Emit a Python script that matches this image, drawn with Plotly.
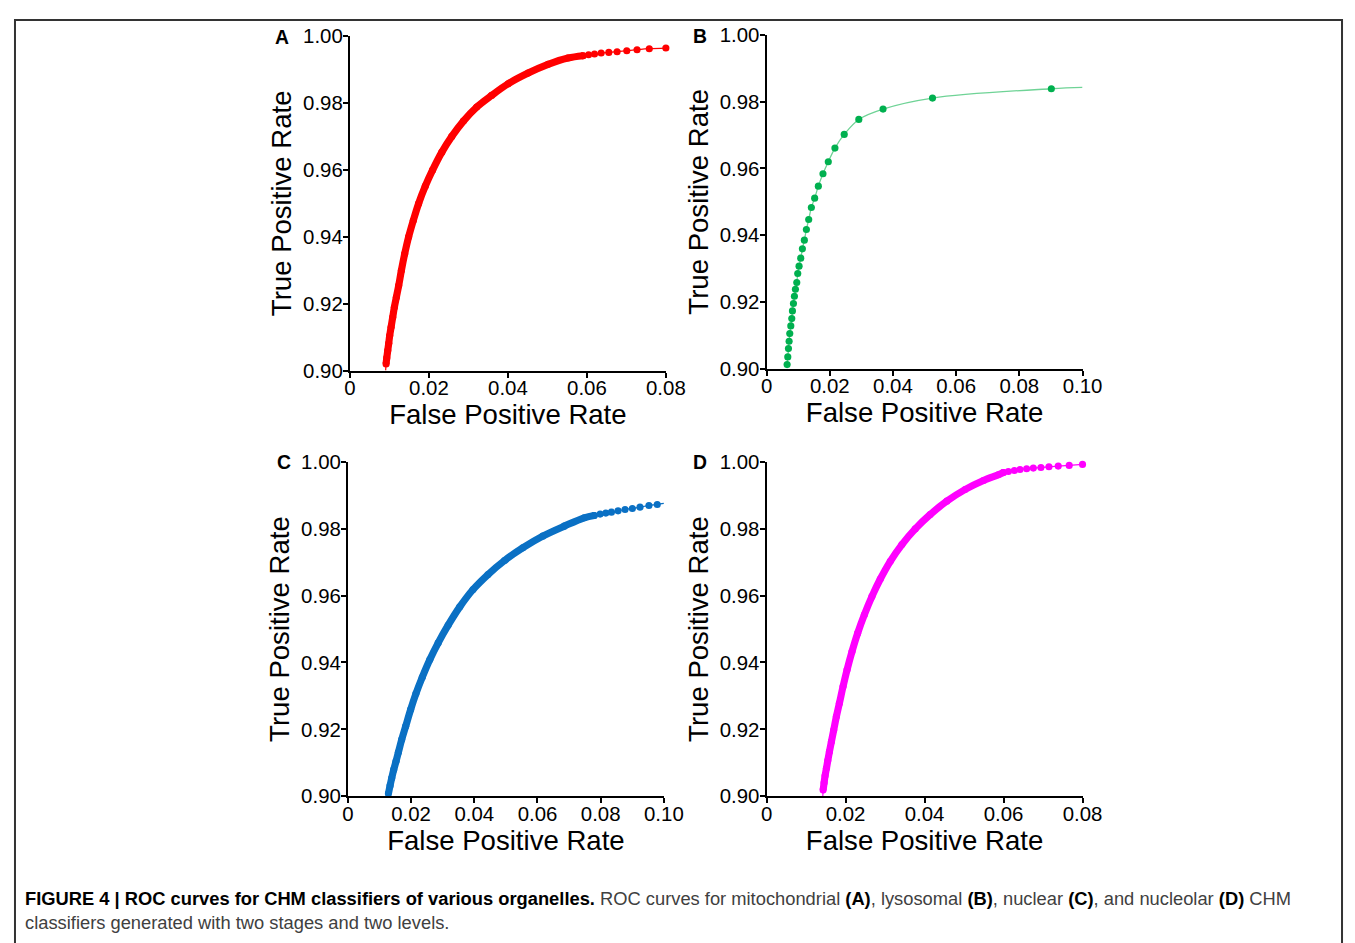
import plotly.graph_objects as go

# ---------------- data ----------------
# Panel A - mitochondrial (red)
A_band_fpr = [0.00916, 0.00933, 0.00958, 0.00983, 0.01008, 0.01042, 0.01084, 0.01126, 0.01176,
              0.01235, 0.01303, 0.01387, 0.01487, 0.01605, 0.01740, 0.01908, 0.02092, 0.02328,
              0.02580, 0.02874, 0.03210, 0.03588, 0.04008, 0.04513, 0.05017, 0.05521, 0.05900]
A_band_tpr = [0.90199, 0.90379, 0.90598, 0.90818, 0.91047, 0.91296, 0.91595, 0.91894, 0.92193,
              0.92542, 0.92991, 0.93490, 0.93998, 0.94487, 0.94995, 0.95513, 0.95992, 0.96530,
              0.97000, 0.97458, 0.97876, 0.98225, 0.98574, 0.98893, 0.99153, 0.99342, 0.99412]
A_dots_fpr = [0.05900, 0.06042, 0.06193, 0.06361, 0.06555, 0.06765, 0.07010, 0.07270, 0.07580, 0.08000]
A_dots_tpr = [0.99412, 0.99442, 0.99462, 0.99492, 0.99511, 0.99531, 0.99561, 0.99591, 0.99621, 0.99641]
A_head = (0.00905, 0.9000)

# Panel B - lysosomal (green)
B_dots_fpr = [0.00651, 0.00672, 0.00693, 0.00714, 0.00735, 0.00767, 0.00798, 0.00819, 0.00851,
              0.00882, 0.00914, 0.00956, 0.00987, 0.01029, 0.01082, 0.01134, 0.01197, 0.01261,
              0.01334, 0.01418, 0.01523, 0.01639, 0.01786, 0.01954, 0.02164, 0.02458, 0.02920,
              0.03687, 0.05252, 0.09013]
B_dots_tpr = [0.9012, 0.9035, 0.9060, 0.9082, 0.9105, 0.9128, 0.9150, 0.9173, 0.9195,
              0.9217, 0.9238, 0.9258, 0.9285, 0.9307, 0.9331, 0.9359, 0.9385, 0.9417,
              0.9447, 0.9483, 0.9511, 0.9547, 0.9584, 0.9620, 0.9661, 0.9702, 0.9747,
              0.9778, 0.9811, 0.9839]
B_tail = (0.1000, 0.9843)

# Panel C - nuclear (blue)
C_band_fpr = [0.01282, 0.01334, 0.01387, 0.01450, 0.01523, 0.01597, 0.01702, 0.01828, 0.01985,
              0.02153, 0.02353, 0.02594, 0.02857, 0.03172, 0.03540, 0.03960, 0.04433, 0.04958,
              0.05536, 0.06166, 0.06849, 0.07479, 0.07794]
C_band_tpr = [0.90080, 0.90320, 0.90549, 0.90798, 0.91047, 0.91316, 0.91695, 0.92094, 0.92592,
              0.93071, 0.93559, 0.94088, 0.94586, 0.95115, 0.95663, 0.96182, 0.96630, 0.97049,
              0.97428, 0.97777, 0.98076, 0.98325, 0.98395]
C_dots_fpr = [0.07794, 0.07983, 0.08162, 0.08340, 0.08550, 0.08771, 0.09002, 0.09244, 0.09527, 0.09790]
C_dots_tpr = [0.98395, 0.98435, 0.98465, 0.98494, 0.98534, 0.98574, 0.98604, 0.98644, 0.98694, 0.98724]
C_tail = (0.1000, 0.98754)

# Panel D - nucleolar (magenta)
D_band_fpr = [0.01432, 0.01457, 0.01482, 0.01516, 0.01550, 0.01592, 0.01642, 0.01701, 0.01768,
              0.01844, 0.01937, 0.02038, 0.02164, 0.02307, 0.02476, 0.02669, 0.02880, 0.03133,
              0.03427, 0.03764, 0.04143, 0.04564, 0.05027, 0.05491, 0.05869, 0.05996]
D_band_tpr = [0.90186, 0.90406, 0.90616, 0.90836, 0.91066, 0.91335, 0.91634, 0.91983, 0.92383,
              0.92782, 0.93281, 0.93780, 0.94329, 0.94878, 0.95427, 0.95976, 0.96495, 0.97024,
              0.97524, 0.97993, 0.98422, 0.98822, 0.99171, 0.99441, 0.99611, 0.99680]
D_dots_fpr = [0.05996, 0.06122, 0.06274, 0.06417, 0.06585, 0.06754, 0.06947, 0.07150, 0.07385, 0.07663, 0.08000]
D_dots_tpr = [0.99680, 0.99710, 0.99740, 0.99770, 0.99790, 0.99810, 0.99830, 0.99850, 0.99870, 0.99890, 0.99920]
D_head = (0.01425, 0.9000)

# axis ticks
y_ticks = [0.90, 0.92, 0.94, 0.96, 0.98, 1.00]
y_tick_text = ["0.90", "0.92", "0.94", "0.96", "0.98", "1.00"]
x_ticks_08 = [0, 0.02, 0.04, 0.06, 0.08]
x_tick_text_08 = ["0", "0.02", "0.04", "0.06", "0.08"]
x_ticks_10 = [0, 0.02, 0.04, 0.06, 0.08, 0.10]
x_tick_text_10 = ["0", "0.02", "0.04", "0.06", "0.08", "0.10"]

panel_letters = ["A", "B", "C", "D"]
x_title = "False Positive Rate"
y_title = "True Positive Rate"

caption_line1 = ("<b>FIGURE 4 | ROC curves for CHM classifiers of various organelles.</b>"
                 "<span style='color:#404040'> ROC curves for mitochondrial </span><b>(A)</b>"
                 "<span style='color:#404040'>, lysosomal </span><b>(B)</b>"
                 "<span style='color:#404040'>, nuclear </span><b>(C)</b>"
                 "<span style='color:#404040'>, and nucleolar </span><b>(D)</b>"
                 "<span style='color:#404040'> CHM</span>")
caption_line2 = "classifiers generated with two stages and two levels."

# ---------------- layout geometry ----------------
W, H = 1355, 943
# observed mapping from figure pixels to the photographed window: win = S * fig + B
SX, BX = 0.984, 11.0
SY, BY = 0.975, 19.0
K = 1 / ((SX + SY) / 2)    # size compensation
FONT = "Liberation Sans, Arial, Helvetica, sans-serif"


def px_x(p):
    return ((p - BX) / SX) / W


def px_y(p):
    return 1 - ((p - BY) / SY) / H


# (x0, x1, ytop, ybottom) of each plot area in window pixels
boxes = [(348, 665, 36, 370), (766, 1083, 35, 368), (346, 663, 461, 795), (766, 1083, 461, 795)]

fig = go.Figure()

colors = {"A": "#ff0000", "B": "#00b04f", "C": "#0a70c4", "D": "#ff00ff"}
MS = 7 * K
BAND = 7 * K


def add_band_panel(i, band_x, band_y, dots_x, dots_y, color, head=None, tail=None):
    xa = "x" if i == 0 else f"x{i+1}"
    ya = "y" if i == 0 else f"y{i+1}"
    lx = list(band_x) + list(dots_x[1:])
    ly = list(band_y) + list(dots_y[1:])
    if head:
        lx = [head[0]] + lx
        ly = [head[1]] + ly
    if tail:
        lx = lx + [tail[0]]
        ly = ly + [tail[1]]
    fig.add_trace(go.Scatter(x=lx, y=ly, mode="lines", line=dict(color=color, width=1.2, shape="spline"),
                             xaxis=xa, yaxis=ya, showlegend=False, hoverinfo="skip", cliponaxis=False))
    fig.add_trace(go.Scatter(x=band_x, y=band_y, mode="lines+markers",
                             line=dict(color=color, width=BAND, shape="spline"),
                             marker=dict(color=color, size=MS),
                             xaxis=xa, yaxis=ya, showlegend=False, cliponaxis=False))
    fig.add_trace(go.Scatter(x=dots_x, y=dots_y, mode="markers", marker=dict(color=color, size=MS),
                             xaxis=xa, yaxis=ya, showlegend=False, cliponaxis=False))


add_band_panel(0, A_band_fpr, A_band_tpr, A_dots_fpr, A_dots_tpr, colors["A"], head=A_head)
fig.add_trace(go.Scatter(x=B_dots_fpr + [B_tail[0]], y=B_dots_tpr + [B_tail[1]], mode="lines",
                         line=dict(color="#6fd396", width=1.3, shape="spline"),
                         xaxis="x2", yaxis="y2", showlegend=False, hoverinfo="skip", cliponaxis=False))
fig.add_trace(go.Scatter(x=B_dots_fpr, y=B_dots_tpr, mode="markers", marker=dict(color=colors["B"], size=MS),
                         xaxis="x2", yaxis="y2", showlegend=False, cliponaxis=False))
add_band_panel(2, C_band_fpr, C_band_tpr, C_dots_fpr, C_dots_tpr, colors["C"], tail=C_tail)
add_band_panel(3, D_band_fpr, D_band_tpr, D_dots_fpr, D_dots_tpr, colors["D"], head=D_head)

x_ranges = [[0, 0.08], [0, 0.10], [0, 0.10], [0, 0.08]]
x_tv = [x_ticks_08, x_ticks_10, x_ticks_10, x_ticks_08]
x_tt = [x_tick_text_08, x_tick_text_10, x_tick_text_10, x_tick_text_08]

axis_common = dict(showgrid=False, zeroline=False, showline=True, linecolor="black", linewidth=2,
                   ticks="outside", ticklen=5, tickwidth=2, tickcolor="black", mirror=False,
                   tickfont=dict(family=FONT, size=20 * K, color="black"))

layout = dict(width=W, height=H, margin=dict(l=0, r=0, t=0, b=0), paper_bgcolor="white",
              plot_bgcolor="white", font=dict(family=FONT, color="black"))

for i, (x0, x1, yt, yb) in enumerate(boxes):
    sx = "" if i == 0 else str(i + 1)
    layout[f"xaxis{sx}"] = dict(domain=[px_x(x0), px_x(x1)], range=x_ranges[i], anchor=f"y{sx}",
                                tickmode="array", tickvals=x_tv[i], ticktext=x_tt[i],
                                ticklabelstandoff=-7,
                                title=dict(text=x_title, font=dict(family=FONT, size=27 * K, color="black"),
                                           standoff=5),
                                **axis_common)
    layout[f"yaxis{sx}"] = dict(domain=[px_y(yb), px_y(yt)], range=[0.90, 1.00], anchor=f"x{sx}",
                                tickmode="array", tickvals=y_ticks, ticktext=y_tick_text,
                                ticklabelstandoff=-4,
                                title=dict(text=y_title, font=dict(family=FONT, size=27 * K, color="black"),
                                           standoff=3),
                                **axis_common)

fig.update_layout(**layout)

# panel letters
letter_pos = [(280, 37), (699, 36), (282, 461), (699, 461)]
for L, (lx, ly) in zip(panel_letters, letter_pos):
    fig.add_annotation(x=px_x(lx), y=px_y(ly), xref="paper", yref="paper", text=f"<b>{L}</b>",
                       showarrow=False, xanchor="center", yanchor="middle",
                       font=dict(family=FONT, size=19 * K, color="black"))

# caption
fig.add_annotation(x=px_x(20), y=px_y(897), xref="paper", yref="paper", text=caption_line1,
                   showarrow=False, xanchor="left", yanchor="middle", align="left",
                   font=dict(family=FONT, size=17.95 * K, color="#000000"))
fig.add_annotation(x=px_x(20), y=px_y(921), xref="paper", yref="paper", text=caption_line2,
                   showarrow=False, xanchor="left", yanchor="middle", align="left",
                   font=dict(family=FONT, size=17.95 * K, color="#404040"))

# outer frame (bottom edge lies beyond the page)
fig.add_shape(type="rect", xref="paper", yref="paper",
              x0=max(px_x(8), 1 / W), x1=min(px_x(1354), 1 - 1 / W),
              y0=-0.05, y1=min(px_y(7), 1 - 1 / H),
              line=dict(color="#333333", width=2), fillcolor="rgba(0,0,0,0)", layer="below")

fig.write_html("out.html")
